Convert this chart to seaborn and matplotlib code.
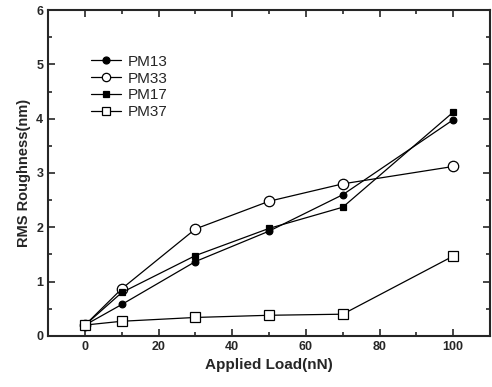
import matplotlib
matplotlib.use("Agg")
import matplotlib.pyplot as plt
import pandas as pd
import seaborn as sns
from matplotlib.ticker import MultipleLocator

loads = [0, 10, 30, 50, 70, 100]
pm13 = [0.20, 0.58, 1.37, 1.93, 2.60, 3.98]
pm33 = [0.20, 0.87, 1.97, 2.48, 2.80, 3.12]
pm17 = [0.20, 0.80, 1.48, 1.98, 2.37, 4.12]
pm37 = [0.20, 0.27, 0.34, 0.38, 0.40, 1.47]
series_names = ["PM13", "PM33", "PM17", "PM37"]

rows = []
for name, vals in zip(series_names, [pm13, pm33, pm17, pm37]):
    for x, y in zip(loads, vals):
        rows.append({"load": x, "rms": y, "sample": name})
df = pd.DataFrame(rows)

sns.set_theme(style="ticks")
plt.rcParams["font.family"] = ["Liberation Sans", "DejaVu Sans"]
plt.rcParams["font.weight"] = "bold"

fig = plt.figure(figsize=(4.92, 3.87), dpi=100)
ax = fig.add_axes([0.098, 0.132, 0.898, 0.842])

styles = {
    "PM13": dict(marker="o", mfc="black", ms=4.8),
    "PM33": dict(marker="o", mfc="white", ms=7.5),
    "PM17": dict(marker="s", mfc="black", ms=4.8),
    "PM37": dict(marker="s", mfc="white", ms=7.5),
}
for name in series_names:
    sub = df[df["sample"] == name]
    sns.lineplot(data=sub, x="load", y="rms", ax=ax, color="black", lw=0.9,
                 mec="black", mew=0.9, label=name, **styles[name])

ax.set_xlim(-10, 110)
ax.set_ylim(0, 6)
ax.xaxis.set_major_locator(MultipleLocator(20))
ax.xaxis.set_minor_locator(MultipleLocator(10))
ax.yaxis.set_major_locator(MultipleLocator(1))
ax.yaxis.set_minor_locator(MultipleLocator(0.5))
ax.tick_params(which="both", direction="in", top=True, right=True, labelsize=9, width=1.2)
ax.tick_params(which="major", length=5)
ax.tick_params(which="minor", length=3)
for lab in ax.get_xticklabels() + ax.get_yticklabels():
    lab.set_fontweight("bold")
for sp in ax.spines.values():
    sp.set_linewidth(1.5)

ax.set_xlabel("Applied Load(nN)", fontsize=11, fontweight="bold")
ax.set_ylabel("RMS Roughness(nm)", fontsize=10.5, fontweight="bold", labelpad=4)

leg = ax.legend(loc="upper left", bbox_to_anchor=(0.065, 0.905), frameon=False,
                fontsize=11, handlelength=2.0, handletextpad=0.4, labelspacing=0.18)
for t in leg.get_texts():
    t.set_fontweight("normal")
for i, h in enumerate(leg.legend_handles):
    h.set_markersize(6 if i % 2 else 5)

fig.savefig("out.png", dpi=100)
